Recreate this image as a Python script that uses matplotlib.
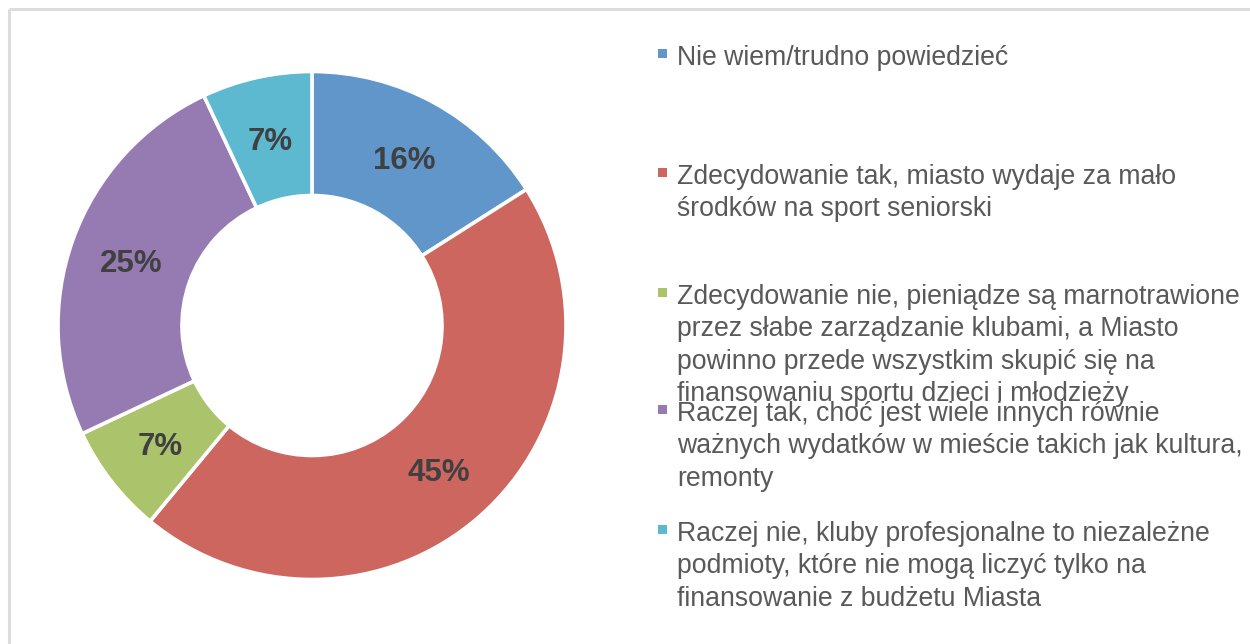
import matplotlib
matplotlib.use("Agg")
import matplotlib.pyplot as plt
from matplotlib.lines import Line2D
from matplotlib.patches import Rectangle
import numpy as np

# Survey answers (clockwise from 12 o'clock)
labels = [
    "Nie wiem/trudno powiedzieć",
    "Zdecydowanie tak, miasto wydaje za mało\nśrodków na sport seniorski",
    "Zdecydowanie nie, pieniądze są marnotrawione\nprzez słabe zarządzanie klubami, a Miasto\n"
    "powinno przede wszystkim skupić się na\nfinansowaniu sportu dzieci i młodzieży",
    "Raczej tak, choć jest wiele innych równie\nważnych wydatków w mieście takich jak kultura,\nremonty",
    "Raczej nie, kluby profesjonalne to niezależne\npodmioty, które nie mogą liczyć tylko na\nfinansowanie z budżetu Miasta",
]
shares = [16, 45, 7, 25, 7]
colors = ["#6096C9", "#CC665F", "#ABC46B", "#957BB2", "#5CB9D0"]

W, H = 1250, 644
fig = plt.figure(figsize=(W / 100, H / 100), dpi=100)
fig.patch.set_facecolor("white")

# light frame (top and left edges visible)
frame = dict(color="#DCDCDC", lw=2.2, solid_capstyle="butt")
fig.add_artist(Line2D([9 / W, 1], [1 - 9 / H, 1 - 9 / H], transform=fig.transFigure, **frame))
fig.add_artist(Line2D([9 / W, 9 / W], [0, 1 - 9 / H], transform=fig.transFigure, **frame))

# donut axes, centered at (312, 325.5) px with radius 254 px
cx, cy, R = 312, 325.5, 254
ax = fig.add_axes([(cx - R) / W, (H - cy - R) / H, 2 * R / W, 2 * R / H])
ring = 1 - 130 / R
wedges, texts = ax.pie(
    shares,
    colors=colors,
    startangle=90,
    counterclock=False,
    radius=1,
    labels=[f"{s}%" for s in shares],
    labeldistance=1 - ring / 2,
    wedgeprops=dict(width=ring, edgecolor="white", linewidth=2.6),
    textprops=dict(fontsize=22.5, fontweight="bold", color="#404040",
                   family="Liberation Sans"),
)
# center the digits (cap height) on the ring's mid-radius
cap_half = 11.5 / R
for t in texts:
    x, y = t.get_position()
    t.set_position((x, y - cap_half))
    t.set_ha("center")
    t.set_va("baseline")
ax.set_xlim(-1, 1)
ax.set_ylim(-1, 1)
ax.set_aspect("equal")
ax.axis("off")

# legend drawn line by line
first_baselines = [65, 184, 304, 421, 541]
line_step = 32.4
text_x = 677
for lab, col, y0 in zip(labels, colors, first_baselines):
    for i, line in enumerate(lab.split("\n")):
        yb = y0 + i * line_step
        fig.text(text_x / W, 1 - yb / H, line, fontsize=19.2, color="#595959",
                 family="Liberation Sans", ha="left", va="baseline")
    sq = 9
    fig.add_artist(Rectangle((658 / W, 1 - (y0 - 7) / H), sq / W, sq / H,
                             transform=fig.transFigure, facecolor=col, edgecolor="none"))

fig.savefig("out.png", dpi=100)
